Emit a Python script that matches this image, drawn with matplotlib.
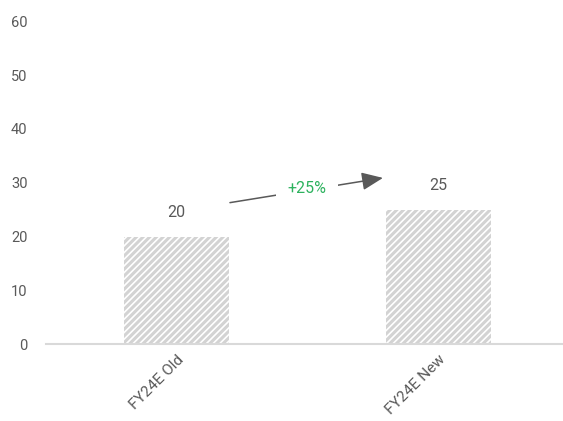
import matplotlib
matplotlib.use("Agg")
import matplotlib.pyplot as plt
from matplotlib.transforms import ScaledTranslation

plt.rcParams["font.family"] = ["Roboto", "DejaVu Sans"]
plt.rcParams["hatch.linewidth"] = 2.2

categories = ["FY24E Old", "FY24E New"]
values = [20, 25]
change_label = "+25%"
y_ticks = [0, 10, 20, 30, 40, 50, 60]

text_color = "#595959"
hatch_color = "#d3d3d3"
fs = 10.5
fs_label = 11.5

fig = plt.figure(figsize=(5.63, 4.21), dpi=100)
ax = fig.add_axes([45.5 / 563, 77 / 421, 524 / 563, 322.5 / 421])

x = list(range(len(categories)))
ax.bar(x, values, width=0.4, color="white", edgecolor=hatch_color,
       linewidth=0, hatch="/////")

for xi, v in zip(x, values):
    ax.text(xi, v + 4.4, f"{v}", ha="center", va="center", fontsize=fs_label, color=text_color)

# growth arrow between the two bars
ax.annotate("", xy=(0.788, 30.9), xytext=(0.204, 26.3),
            arrowprops=dict(arrowstyle="-|>,head_length=1.3,head_width=0.55",
                            color=text_color, lw=1.1, shrinkA=0, shrinkB=0))
ax.text(0.498, 29.0, change_label, ha="center", va="center", fontsize=fs_label,
        color="#2db25e",
        bbox=dict(boxstyle="square,pad=0.7", facecolor="white", edgecolor="none"))

ax.set_xlim(-0.5, 1.5)
ax.set_ylim(0, 60)
ax.set_yticks(y_ticks)
ax.set_xticks(x)
ax.set_xticklabels(categories, rotation=45, ha="right", rotation_mode="anchor",
                   fontsize=11)
shift = ScaledTranslation(-10 / 100, 0, fig.dpi_scale_trans)
for lbl in ax.get_xticklabels():
    lbl.set_transform(lbl.get_transform() + shift)

for s in ["top", "right", "left"]:
    ax.spines[s].set_visible(False)
ax.spines["bottom"].set_color("#d9d9d9")
ax.spines["bottom"].set_linewidth(1.5)
ax.tick_params(axis="y", length=0, labelsize=fs, colors=text_color, pad=13)
ax.tick_params(axis="x", length=0, colors=text_color, pad=6)

fig.savefig("out.png", dpi=100)
